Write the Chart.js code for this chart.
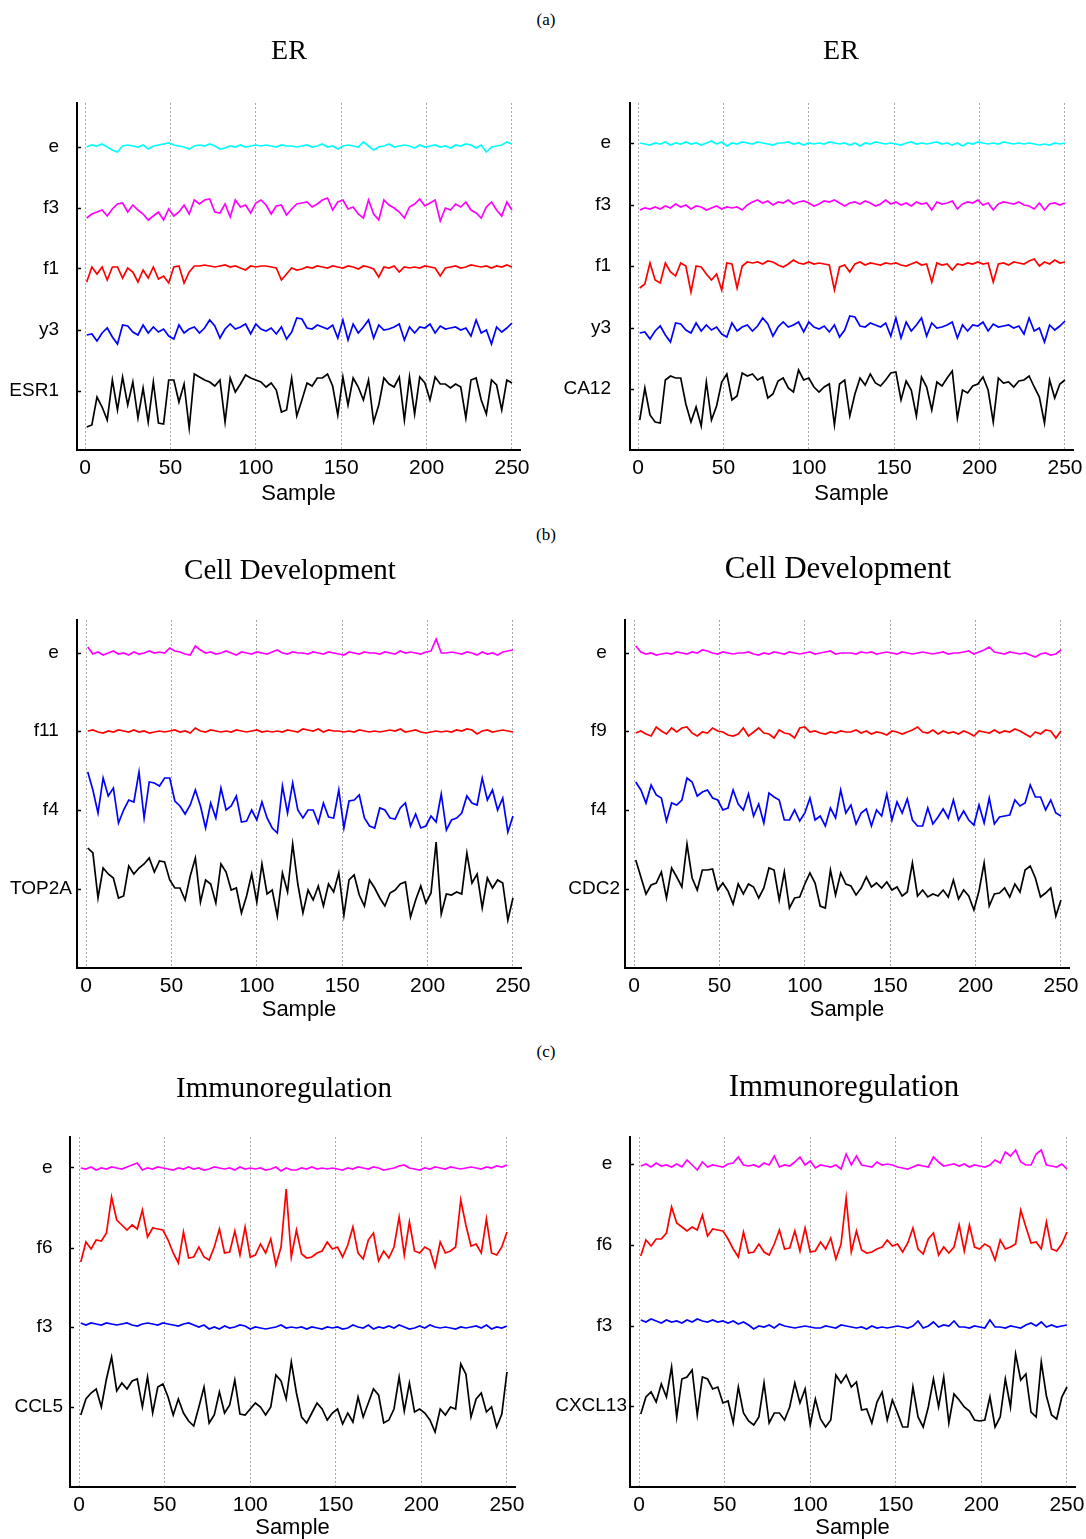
<!DOCTYPE html>
<html>
<head>
<meta charset="utf-8">
<title>Factor profiles</title>
<script src="https://cdn.jsdelivr.net/npm/chart.js@4.4.1/dist/chart.umd.min.js"></script>
<style>
	html, body { margin: 0; padding: 0; background: #fff; overflow: hidden; }
	body { position: relative; width: 1086px; height: 1539px; }
	canvas { position: absolute; }
	.tag { position: absolute; width: 60px; margin-left: -30px; text-align: center; line-height: 20px; font: 17px "Liberation Serif", serif; }
</style>
</head>
<body>

<div class="tag" style="left:546px;top:10px">(a)</div>
<div class="tag" style="left:546px;top:525px">(b)</div>
<div class="tag" style="left:546px;top:1042px">(c)</div>

<canvas id="erL"></canvas>
<canvas id="erR"></canvas>
<canvas id="cdL"></canvas>
<canvas id="cdR"></canvas>
<canvas id="imL"></canvas>
<canvas id="imR"></canvas>

<script>
	// sample index for every point (read every 3rd sample off the figure)
	const sampleIdx = [1,4,7,10,13,16,19,22,25,28,31,34,37,40,43,46,49,52,55,58,61,64,67,70,73,76,79,82,85,88,91,94,97,100,103,106,109,112,115,118,121,124,127,130,133,136,139,142,145,148,151,154,157,160,163,166,169,172,175,178,181,184,187,190,193,196,199,202,205,208,211,214,217,220,223,226,229,232,235,238,241,244,247,250]
	const xTickVals = [0, 50, 100, 150, 200, 250]

	// values are in plot units (0 = bottom of each panel)
	// (a) left - ER / ESR1
	const erL_labels = ["e", "f3", "f1", "y3", "ESR1"]
	const erL_levels = [303, 242, 181, 120, 59]
	const erL_e = [303,305,304,306,303,300,298, 304,305,304,303,305,301,304, 305,306,307,305,304,303,301, 304,305,304,306,304,301,302, 304,303,305,303,304,305,304, 305,304,303,305,304,304,303, 304,305,303,304,306,303,304, 301,304,305,304,303,308,304, 300,303,304,306,303,304,305, 304,302,305,303,304,305,303, 304,302,305,304,306,305,302, 305,298,303,304,305,308,306]
	const erL_f3 = [232,236,238,240,234,241,246, 247,238,245,240,236,230,234, 238,230,241,234,238,245,236, 250,246,250,251,238,237,246, 233,250,243,245,237,247,250, 245,236,244,245,235,241,246, 247,248,243,246,250,252,240, 248,250,241,243,236,232,250, 236,230,250,245,242,238,232, 243,246,251,244,247,250,229, 242,240,246,243,248,240,237, 232,243,248,240,234,248,240]
	const erL_f1 = [168,183,176,183,170,183,183, 172,182,178,168,180,172,183, 171,174,167,183,184,167,178, 184,184,185,184,183,184,185, 183,184,182,180,184,183,184, 184,183,182,170,176,182,180, 181,183,182,184,183,182,184, 183,182,184,183,181,184,183, 181,173,183,182,184,178,183, 182,183,182,184,183,182,174, 182,183,184,182,183,185,184, 183,184,182,184,183,185,183]
	const erL_y3 = [115,116,109,117,122,113,106, 125,124,118,115,125,117,123, 118,121,114,111,125,117,121, 123,117,122,130,124,112,121, 126,121,123,126,116,126,121, 119,122,116,123,111,118,132, 131,122,121,125,123,121,125, 112,130,110,126,117,123,130, 112,125,120,121,123,126,110, 123,117,123,122,126,117,124, 121,122,123,120,122,114,130, 117,120,106,123,118,122,127]
	const erL_ESR1 = [23,25,53,43,30,70,40, 73,45,68,32,62,28,68, 27,26,70,70,48,66,22, 76,73,70,68,64,70,28, 72,58,66,75,72,70,68, 63,67,60,38,40,72,34, 50,67,64,72,72,76,64, 35,73,45,72,63,50,70, 28,45,72,66,63,73,30, 73,36,73,67,50,73,66, 66,62,66,63,32,70,72, 50,36,70,65,40,70,67]

	// (a) right - ER / CA12
	const erR_labels = ["e", "f3", "f1", "y3", "CA12"]
	const erR_levels = [307, 245, 184, 122, 61]
	const erR_e = [307,306,305,307,306,308,305, 307,306,308,306,307,305,307, 309,306,308,304,307,306,308, 307,306,308,307,306,305,307, 307,308,306,307,305,307,306, 307,306,308,307,306,307,305, 307,304,307,306,308,307,306, 307,306,305,307,308,306,307, 306,307,308,306,307,305,307, 304,307,306,308,307,306,307, 306,308,307,306,307,306,307, 306,305,306,305,307,306,307]
	const erR_f3 = [240,242,241,243,241,244,242, 246,243,245,241,244,243,240, 242,244,241,243,242,243,240, 245,248,250,247,249,245,248, 247,250,246,248,249,247,244, 246,249,248,250,247,244,247, 248,246,249,247,244,246,250, 246,248,245,247,244,248,246, 247,240,248,246,247,249,241, 246,248,247,250,245,247,240, 246,248,247,246,248,245,244, 241,247,240,246,247,245,247]
	const erR_f1 = [162,166,187,170,167,187,178, 174,187,184,158,184,183,176, 170,176,160,187,186,162,184, 188,187,188,186,189,188,185, 183,186,190,187,186,188,186, 187,186,185,160,183,185,178, 186,188,185,187,186,185,187, 186,187,185,184,186,188,185, 186,168,187,185,186,180,186, 185,187,186,188,186,187,168, 186,187,185,188,187,186,189, 191,184,188,186,190,187,188]
	const erR_y3 = [117,118,111,119,124,115,108, 127,126,120,117,127,119,125, 120,123,116,113,127,119,123, 125,119,124,132,126,114,123, 128,123,125,128,118,128,123, 121,124,118,125,113,120,134, 133,124,123,127,125,123,127, 114,132,112,128,119,125,132, 114,127,122,123,125,128,112, 125,119,125,124,128,119,126, 123,124,125,122,124,116,132, 119,122,108,125,120,124,129]
	const erR_CA12 = [30,62,35,28,27,70,74, 72,72,46,28,43,24,68, 30,44,68,76,50,54,77, 74,76,70,73,52,56,69, 72,62,58,80,70,72,63, 58,63,66,25,66,70,34, 56,72,65,76,67,64,70, 77,78,50,69,60,34,73, 63,40,68,64,72,79,32, 60,57,64,66,73,60,28, 72,67,68,63,69,70,74, 63,53,27,70,52,66,70]

	// (b) left - Cell Development / TOP2A
	const cdL_labels = ["e", "f11", "f4", "TOP2A"]
	const cdL_levels = [315, 237, 158, 79]
	const cdL_e = [321,314,316,313,315,317,314, 315,313,316,314,315,317,315, 316,315,320,317,316,314,313, 322,318,315,316,314,315,317, 315,313,316,315,314,316,315, 314,316,318,315,314,316,315, 315,314,316,315,314,316,315, 314,313,316,315,314,316,315, 315,314,316,315,314,317,315, 316,315,314,316,317,329,315, 315,316,315,314,316,315,313, 316,314,315,313,316,317,318]
	const cdL_f11 = [237,238,236,235,237,236,238, 237,236,238,236,237,235,236, 237,236,237,238,236,237,235, 240,237,236,238,237,236,237, 236,238,237,236,237,238,236, 237,236,237,236,238,237,236, 239,238,237,239,236,238,237, 237,236,237,236,238,237,236, 237,236,237,238,237,239,236, 237,238,236,235,236,237,236, 237,236,238,237,239,238,234, 237,238,236,237,238,237,236]
	const cdL_f4 = [196,178,155,190,172,180,145, 158,168,166,196,150,186,185, 182,190,190,167,162,154,163, 178,162,140,165,150,180,158, 162,172,146,147,158,148,166, 150,140,135,182,155,185,158, 150,158,158,145,165,151,150, 178,140,167,168,173,150,142, 140,160,158,150,149,160,165, 142,154,140,142,152,146,174, 138,148,150,155,172,165,163, 190,168,178,158,170,136,152]
	const cdL_TOP2A = [120,115,70,100,94,90,70, 72,102,94,100,104,110,96, 107,106,88,80,80,68,92, 110,66,88,84,65,104,96, 78,80,55,72,94,66,104, 74,78,52,95,76,124,84, 55,78,68,82,62,84,76, 95,53,88,93,73,62,88, 80,70,62,75,78,84,86, 51,68,82,65,75,126,54, 74,73,76,74,115,85,94, 60,90,80,88,85,48,70]

	// (b) right - Cell Development / CDC2
	const cdR_labels = ["e", "f9", "f4", "CDC2"]
	const cdR_levels = [315, 237, 158, 79]
	const cdR_e = [322,316,314,315,313,314,315, 314,316,315,314,316,315,318, 317,315,314,316,315,314,315, 315,316,314,313,315,314,316, 315,314,316,315,314,315,316, 314,315,316,317,314,315,315, 315,314,316,315,316,314,315, 316,315,314,316,315,314,315, 316,315,314,315,316,314,315, 315,316,317,314,316,318,321, 316,315,314,316,315,314,315, 313,311,314,315,313,314,318]
	const cdR_f9 = [235,237,234,232,241,237,234, 240,236,240,241,235,232,236, 235,240,237,236,233,232,234, 240,232,236,240,235,234,230, 238,235,234,230,240,241,236, 237,235,234,236,235,237,236, 236,238,235,237,234,236,235, 233,237,236,234,236,238,241, 236,235,238,234,237,235,236, 234,237,235,232,237,236,235, 238,235,237,236,239,237,234, 231,236,234,238,237,230,237]
	const cdR_f4 = [186,178,165,183,173,170,147, 165,163,168,190,186,172,176, 178,170,168,158,160,178,164, 158,174,152,164,145,175,171, 168,148,148,158,147,155,170, 148,152,142,160,150,178,155, 163,144,155,159,142,158,152, 174,148,166,155,169,148,142, 142,160,144,151,159,150,168, 148,157,148,143,163,145,170, 144,151,152,153,168,162,165, 183,171,171,158,168,155,152]
	const cdR_CDC2 = [108,91,74,83,85,96,70, 100,91,81,124,90,78,98, 98,99,78,85,77,64,84, 74,84,81,70,80,100,98, 68,96,60,70,71,84,95, 85,62,60,98,73,95,84, 82,73,80,91,81,85,80, 86,78,81,72,76,105,72, 78,71,74,72,78,71,88, 69,78,72,58,77,105,62, 74,75,80,71,84,76,98, 102,90,71,75,80,52,68]

	// (c) left - Immunoregulation / CCL5
	const imL_labels = ["e", "f6", "f3", "CCL5"]
	const imL_levels = [319, 239, 160, 80]
	const imL_e = [319,318,320,317,319,318,320, 319,318,320,322,324,317,319, 318,320,319,318,317,319,318, 320,318,319,317,318,320,319, 318,319,317,320,318,319,318, 319,317,318,320,316,319,317, 317,319,318,320,318,319,318, 319,318,317,319,318,320,319, 318,320,319,317,318,319,321, 322,319,318,317,319,318,320, 319,318,320,319,318,319,320, 319,318,320,319,321,320,322]
	const imL_f6 = [225,245,238,247,246,254,290, 267,262,257,262,258,277,250, 259,258,257,247,234,224,255, 229,230,240,230,227,240,258, 234,235,256,232,260,230,232, 243,234,248,222,240,298,230, 257,233,229,230,234,236,245, 238,240,230,242,260,234,228, 247,254,226,236,229,240,270, 232,265,236,234,240,237,220, 245,234,236,240,287,262,241, 243,234,268,234,232,240,255]
	const imL_f3 = [164,162,164,163,162,164,163, 162,163,164,162,161,163,164, 163,162,164,163,162,161,163, 164,162,160,162,158,160,158, 161,159,160,162,161,158,160, 159,158,159,160,162,159,160, 159,160,158,160,159,158,160, 159,160,158,159,162,160,159, 162,158,160,159,161,159,162, 160,158,159,161,159,162,160, 159,160,159,158,160,159,160, 161,159,162,158,160,159,161]
	const imL_CCL5 = [72,88,94,98,80,108,130, 96,104,98,106,108,80,110, 74,100,103,90,72,88,74, 66,61,80,100,64,72,95, 74,82,107,73,72,78,84, 80,72,80,112,106,88,125, 94,70,64,74,84,78,67, 74,78,63,74,65,90,70, 84,98,92,64,67,78,110, 76,104,75,78,74,67,55, 78,72,80,78,123,113,70, 88,94,75,80,60,73,115]

	// (c) right - Immunoregulation / CXCL13
	const imR_labels = ["e", "f6", "f3", "CXCL13"]
	const imR_levels = [323, 242, 161, 81]
	const imR_e = [321,323,320,324,321,322,320, 323,320,327,322,317,325,320, 322,321,320,323,324,330,322, 321,322,320,324,322,331,320, 322,321,325,330,322,326,319, 322,321,320,322,318,333,322, 331,322,321,320,325,322,323, 322,320,319,318,320,322,321, 320,330,325,321,322,323,321, 323,320,322,321,320,322,327, 324,335,331,337,325,322,322, 333,337,322,321,320,323,318]
	const imR_f6 = [231,247,241,248,248,254,280, 264,260,256,260,257,272,251, 258,257,256,248,238,230,255, 234,235,243,235,232,243,257, 238,239,256,236,259,235,236, 245,238,249,228,243,289,235, 256,237,234,235,238,240,247, 241,243,235,244,259,238,233, 248,254,232,240,234,240,262, 236,262,240,238,243,240,227, 247,238,240,243,277,260,244, 245,238,265,238,236,243,255]
	const imR_f3 = [167,165,168,166,164,167,165, 166,164,167,165,168,166,165, 167,165,166,164,166,163,165, 162,158,161,160,162,159,163, 161,160,159,160,161,160,159, 159,161,160,159,162,161,160, 159,160,158,161,159,160,159, 160,161,160,159,161,166,159, 161,165,160,162,161,166,160, 160,159,161,160,159,167,160, 160,159,161,160,159,162,164, 161,165,160,162,160,161,162]
	const imR_CXCL13 = [73,90,95,85,103,90,120, 70,108,110,117,72,110,108, 98,100,84,86,64,100,74, 66,62,70,104,64,74,74, 67,80,104,84,98,62,88, 68,60,67,112,104,112,100, 105,77,78,64,85,95,67, 87,74,60,60,100,70,60, 80,108,80,110,64,93,87, 80,76,67,66,67,90,60, 70,108,80,133,107,113,75, 70,125,91,72,68,90,100]

	const CYAN = "#00ffff", MAGENTA = "#ff00ff", RED = "#ff0000", BLUE = "#0000ff", BLACK = "#000000"

	Chart.defaults.font.family = "'Liberation Sans', Arial, sans-serif"
	Chart.defaults.color = "#000"

	// left/top/bottom of the canvas on the page, area = plot area [left, top, right, bottom]
	// canvas right edge is picked so the title (centred on the canvas) sits where it should
	const panels = [
		{ id: "erL", title: "ER", titleSize: 28, titleX: 289, titleY: 52, sampleY: 494,
			left: 0, top: 25, bottom: 510, area: [77, 103, 520, 450], yMax: 347, xMin: -4.7, xMax: 254.7,
			labels: erL_labels, levels: erL_levels, labelGap: 18, spacer: "",
			series: [erL_e, erL_f3, erL_f1, erL_y3, erL_ESR1], colors: [CYAN, MAGENTA, RED, BLUE, BLACK] },
		{ id: "erR", title: "ER", titleSize: 28, titleX: 841, titleY: 52, sampleY: 494,
			left: 550, top: 25, bottom: 510, area: [630, 103, 1073, 450], yMax: 347, xMin: -4.7, xMax: 254.7,
			labels: erR_labels, levels: erR_levels, labelGap: 19, spacer: "",
			series: [erR_e, erR_f3, erR_f1, erR_y3, erR_CA12], colors: [CYAN, MAGENTA, RED, BLUE, BLACK] },
		{ id: "cdL", title: "Cell Development", titleSize: 29, titleX: 290, titleY: 571, sampleY: 1010,
			left: 0, top: 545, bottom: 1030, area: [77, 620, 521, 968], yMax: 348, xMin: -5.3, xMax: 254.7,
			labels: cdL_labels, levels: cdL_levels, labelGap: 5, spacer: "\u2002\u2009",
			series: [cdL_e, cdL_f11, cdL_f4, cdL_TOP2A], colors: [MAGENTA, RED, BLUE, BLACK] },
		{ id: "cdR", title: "Cell Development", titleSize: 31, titleX: 838, titleY: 570, sampleY: 1010,
			left: 550, top: 545, bottom: 1030, area: [625, 620, 1069, 968], yMax: 348, xMin: -5.3, xMax: 254.7,
			labels: cdR_labels, levels: cdR_levels, labelGap: 5, spacer: "\u2002\u2009",
			series: [cdR_e, cdR_f9, cdR_f4, cdR_CDC2], colors: [MAGENTA, RED, BLUE, BLACK] },
		{ id: "imL", title: "Immunoregulation", titleSize: 29, titleX: 284, titleY: 1089, sampleY: 1528,
			left: 0, top: 1062, bottom: 1539, area: [70, 1137, 515, 1487], yMax: 350, xMin: -5.3, xMax: 254.7,
			labels: imL_labels, levels: imL_levels, labelGap: 7, spacer: "  ",
			series: [imL_e, imL_f6, imL_f3, imL_CCL5], colors: [MAGENTA, RED, BLUE, BLACK] },
		{ id: "imR", title: "Immunoregulation", titleSize: 31, titleX: 844, titleY: 1088, sampleY: 1528,
			left: 550, top: 1062, bottom: 1539, area: [630, 1137, 1075, 1487], yMax: 350, xMin: -5.3, xMax: 254.7,
			labels: imR_labels, levels: imR_levels, labelGap: 3, spacer: "\u2002 ",
			series: [imR_e, imR_f6, imR_f3, imR_CXCL13], colors: [MAGENTA, RED, BLUE, BLACK] },
	]

	const TICK_IN = 4 // y tick marks point into the plot, as in the figure

	function makePanel(p) {
		const [al, at, ar, ab] = p.area
		const right = 2 * p.titleX - p.left
		const cv = document.getElementById(p.id)
		cv.width = right - p.left
		cv.height = p.bottom - p.top
		cv.style.left = p.left + "px"
		cv.style.top = p.top + "px"

		const yWidth = al - p.left
		const spareRight = right - ar
		const xHeight = p.bottom - ab
		const tTop = p.titleY - p.top - p.titleSize / 2
		const tBottom = at - p.top - tTop - p.titleSize
		const last = p.labels.length - 1

		return new Chart(cv, {
			type: "line",
			data: {
				datasets: p.series.map((s, i) => ({
					data: s.map((v, k) => ({ x: sampleIdx[k], y: v })),
					borderColor: p.colors[i],
					borderWidth: 1.7,
					pointRadius: 0,
					fill: false,
					tension: 0,
				}))
			},
			options: {
				responsive: false,
				animation: false,
				devicePixelRatio: 1,
				layout: { padding: 0 },
				plugins: {
					legend: { display: false },
					tooltip: { enabled: false },
					title: {
						display: true,
						text: p.title,
						color: "#000",
						font: { family: "'Liberation Serif', 'Times New Roman', serif", size: p.titleSize, weight: "normal", lineHeight: 1 },
						padding: { top: tTop, bottom: tBottom },
					},
				},
				scales: {
					x: {
						type: "linear",
						min: p.xMin,
						max: p.xMax,
						afterBuildTicks: (a) => { a.ticks = xTickVals.map((v) => ({ value: v })) },
						afterFit: (s) => { s.height = xHeight; s.paddingLeft = 0; s.paddingRight = 0 },
						ticks: { font: { size: 21 }, padding: 6, maxRotation: 0, autoSkip: false },
						grid: { color: "#a8a8a8", lineWidth: 1, drawTicks: false },
						border: { display: true, color: "#000", width: 2, dash: [2, 2] },
						title: {
							display: true,
							text: "Sample",
							font: { size: 22, lineHeight: 1 },
							padding: { top: 0, bottom: p.bottom - p.sampleY - 11 },
						},
					},
					y: {
						min: 0,
						max: p.yMax,
						afterBuildTicks: (a) => { a.ticks = p.levels.map((v) => ({ value: v })) },
						afterFit: (s) => { s.width = yWidth; s.paddingTop = 0; s.paddingBottom = 0 },
						ticks: {
							font: { size: 19 },
							padding: p.labelGap + TICK_IN,
							autoSkip: false,
							callback: (v, i) => i === last ? p.labels[i] : p.labels[i] + p.spacer,
						},
						grid: { display: true, drawOnChartArea: false, drawTicks: true, tickLength: -TICK_IN, tickColor: "#000", tickWidth: 1.5 },
						border: { display: true, color: "#000", width: 2 },
					},
					// empty box on the right so the plot area ends where the figure's does
					spare: {
						type: "linear",
						position: "right",
						afterFit: (s) => { s.width = spareRight },
						ticks: { display: false },
						grid: { display: false, drawTicks: false },
						border: { display: false },
					},
				},
			},
		})
	}

	panels.forEach(makePanel)
</script>
</body>
</html>
